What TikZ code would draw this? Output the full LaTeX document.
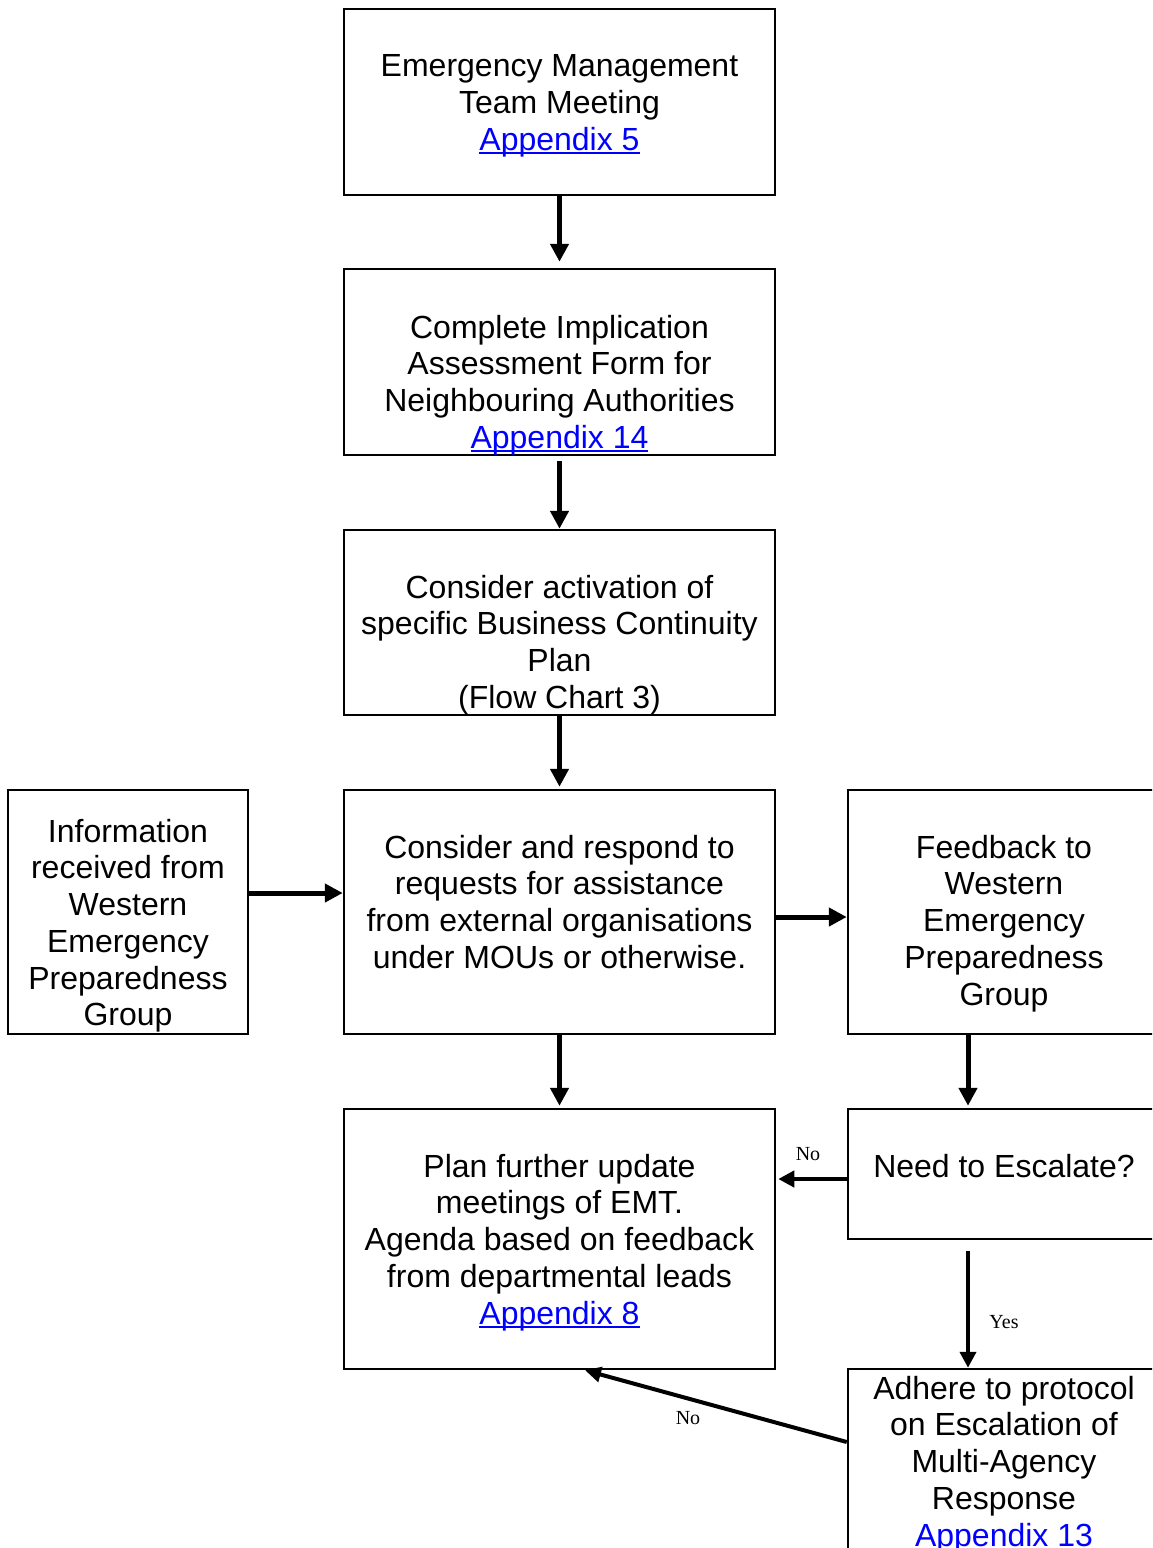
\documentclass[tikz,border=0pt]{standalone}
\usepackage{fontspec}
\setmainfont{Liberation Sans}
\newfontfamily\lblfont{Liberation Serif}
\usetikzlibrary{arrows.meta}
\definecolor{linkblue}{RGB}{0,0,255}
% blue hyperlink-style text with an underline at a fixed depth
\newcommand\applink[1]{\textcolor{linkblue}{\setbox0\hbox{#1}\rlap{\rule[-4pt]{\wd0}{2pt}}\box0}}
\begin{document}
\begin{tikzpicture}[x=1pt,y=-1pt,
  box/.style={draw, line width=2.5pt, rectangle, inner sep=0pt},
  txt/.style={anchor=north, inner sep=0pt, align=center, font=\fontsize{32}{36.75}\selectfont},
  arr/.style={line width=5pt, -{Triangle[length=18pt,width=18pt]}},
  arrs/.style={line width=4.5pt, -{Triangle[length=16pt,width=16pt]}},
  lbl/.style={font=\lblfont\fontsize{20}{24}\selectfont, inner sep=0pt}]
\useasboundingbox (0,0) rectangle (1152,1548);
\clip (0,0) rectangle (1152,1548);

% boxes
\node[box, minimum width=431pt, minimum height=186pt] (b1) at (559.5,102) {};
\node[box, minimum width=431pt, minimum height=186pt] (b2) at (559.5,362) {};
\node[box, minimum width=431pt, minimum height=185pt] (b3) at (559.5,622.5) {};
\node[box, minimum width=431pt, minimum height=244pt] (b4) at (559.5,912) {};
\node[box, minimum width=240pt, minimum height=244pt] (left) at (128,912) {};
\node[box, minimum width=312pt, minimum height=244pt] (right) at (1004,912) {};
\node[box, minimum width=431pt, minimum height=260pt] (b5) at (559.5,1239) {};
\node[box, minimum width=312pt, minimum height=130pt] (need) at (1004,1174) {};
\node[box, minimum width=312pt, minimum height=251pt] (adhere) at (1004,1494.5) {};

% box texts
\node[txt] (t1) at ([yshift=-47pt]b1.north) {Emergency Management\\Team Meeting\\\applink{Appendix 5}};
\node[txt] (t2) at ([yshift=-47pt]b2.north) {Complete Implication\\Assessment Form for\\Neighbouring Authorities\\\applink{Appendix 14}};
\node[txt] (t3) at ([yshift=-46pt]b3.north) {Consider activation of\\specific Business Continuity\\Plan\\(Flow Chart 3)};
\node[txt] (t4) at ([yshift=-46pt]b4.north) {Consider and respond to\\requests for assistance\\from external organisations\\under MOUs or otherwise.};
\node[txt] (tl) at ([yshift=-30pt]left.north) {Information\\received from\\Western\\Emergency\\Preparedness\\Group};
\node[txt] (tr) at ([yshift=-46pt]right.north) {Feedback to\\Western\\Emergency\\Preparedness\\Group};
\node[txt] (t5) at ([yshift=-46pt]b5.north) {Plan further update\\meetings of EMT.\\Agenda based on feedback\\from departmental leads\\\applink{Appendix 8}};
\node[txt] (tn) at ([yshift=-46pt]need.north) {Need to Escalate?};
\node[txt] (ta) at ([yshift=-8pt]adhere.north) {Adhere to protocol\\on Escalation of\\Multi-Agency\\Response\\\applink{Appendix 13}};

% connectors
\draw[arr, shorten >=6pt] (b1.south) -- (b2.north);
\draw[arr, shorten <=5pt] (b2.south) -- (b3.north);
\draw[arr, shorten >=2pt] (b3.south) -- (b4.north);
\draw[arr] ([yshift=19pt]left.east) -- ([yshift=19pt]b4.west);
\draw[arr] ([yshift=-5pt]b4.east) -- ([yshift=-5pt]right.west);
\draw[arr, shorten >=2pt] (b4.south) -- (b5.north);
\draw[arr, shorten >=2pt] ([xshift=-36pt]right.south) -- ([xshift=-36pt]need.north);
\coordinate (nw) at ([yshift=-5pt]need.west);
\draw[arrs, shorten >=2pt] (nw) -- (nw -| b5.east);
\draw[arrs, shorten <=11pt] ([xshift=-36pt]need.south) -- ([xshift=-36pt]adhere.north);
\draw[line width=4pt, -{Triangle[length=16pt,width=15pt]}] ([yshift=52.5pt]adhere.west) -- ([xshift=25.5pt]b5.south);

% decision labels
\node[lbl] (no1) at (808,1154) {No};
\node[lbl] (yes) at (1004,1322) {Yes};
\node[lbl] (no2) at (688,1418) {No};
\end{tikzpicture}
\end{document}
